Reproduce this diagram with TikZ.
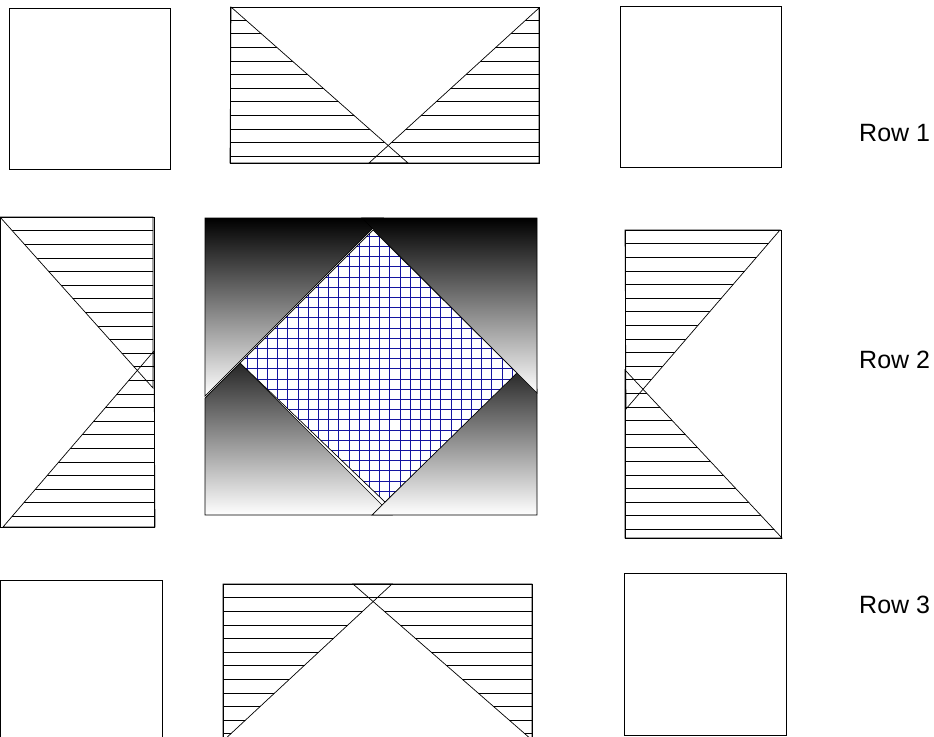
\documentclass[tikz,border=0pt]{standalone}
\usepackage{fontspec}
\setmainfont{Liberation Sans}
\usepackage{tikz}
\usetikzlibrary{positioning}
\definecolor{gridblue}{HTML}{1414A0}

\tikzset{
  piece/.style={draw=black,line width=0.7pt},
  hatchline/.style={draw=black,line width=0.5pt},
  gridline/.style={draw=gridblue,line width=0.7pt},
  rowlabel/.style={anchor=west,inner sep=0pt,font=\fontsize{25}{29}\selectfont}
}

\begin{document}
\begin{tikzpicture}[x=1pt,y=-1pt]
\useasboundingbox (0,0) rectangle (934,736);

% corner squares
\draw[piece] (9,8) rectangle (170,169);
\draw[piece] (620,6) rectangle (781,167);
\draw[piece] (0,580) rectangle (162,740);
\draw[piece] (624,573) rectangle (786,735);

% top middle
\draw[piece] (230,7) rectangle (539,163);
\begin{scope}
  \clip (231,7) -- (230,163) -- (408,163) -- cycle;
  \foreach \y in {20,33.6,...,163} \draw[hatchline] (225,\y) -- (545,\y);
\end{scope}
\begin{scope}
  \clip (539,8) -- (539,163) -- (369,163) -- cycle;
  \foreach \y in {20,33.6,...,163} \draw[hatchline] (225,\y) -- (545,\y);
\end{scope}
\draw[piece] (231,7) -- (230,163) -- (408,163) -- cycle;
\draw[piece] (539,8) -- (539,163) -- (369,163) -- cycle;

% middle left
\draw[piece] (0,217) rectangle (154,527);
\begin{scope}
  \clip (0,217) -- (153,217) -- (153,388) -- cycle;
  \foreach \y in {230.6,244.2,...,527} \draw[hatchline] (-5,\y) -- (160,\y);
\end{scope}
\begin{scope}
  \clip (154,351) -- (3,527) -- (155,527) -- cycle;
  \foreach \y in {230.6,244.2,...,527} \draw[hatchline] (-5,\y) -- (160,\y);
\end{scope}
\draw[piece] (0,217) -- (153,217) -- (153,388) -- cycle;
\draw[piece] (154,351) -- (3,527) -- (155,527) -- cycle;

% middle right
\draw[piece] (625,230) rectangle (781,538);
\begin{scope}
  \clip (625,230) -- (780,230) -- (626,409) -- cycle;
  \foreach \y in {243.6,257.2,...,538} \draw[hatchline] (620,\y) -- (790,\y);
\end{scope}
\begin{scope}
  \clip (625,370) -- (782,538) -- (625,538) -- cycle;
  \foreach \y in {243.6,257.2,...,538} \draw[hatchline] (620,\y) -- (790,\y);
\end{scope}
\draw[piece] (625,230) -- (780,230) -- (626,409) -- cycle;
\draw[piece] (625,370) -- (782,538) -- (625,538) -- cycle;

% bottom middle
\draw[piece] (223,584) rectangle (532,745);
\begin{scope}
  \clip (223,584) -- (392,584) -- (223,741) -- cycle;
  \foreach \y in {597.6,611.2,...,740} \draw[hatchline] (218,\y) -- (540,\y);
\end{scope}
\begin{scope}
  \clip (353,584) -- (532,584) -- (532,740) -- cycle;
  \foreach \y in {597.6,611.2,...,740} \draw[hatchline] (218,\y) -- (540,\y);
\end{scope}
\draw[piece] (223,584) -- (392,584) -- (223,741) -- cycle;
\draw[piece] (353,584) -- (532,584) -- (532,740) -- cycle;

% centre block
\draw[piece,top color=black,bottom color=white] (205,218) -- (383,218) -- (205,396) -- cycle;
\draw[piece,top color=black!85,bottom color=white] (205,398) -- (240,363) -- (392,515) -- (205,515) -- cycle;
\draw[piece,top color=black!85,bottom color=white] (372,515) -- (518,370) -- (537,389) -- (537,515) -- cycle;
\draw[piece,top color=black,bottom color=white] (362,218) -- (537,218) -- (537,393) -- cycle;
\fill[white] (373,230) -- (517,373) -- (385,502) -- (240,363) -- cycle;
\begin{scope}
  \clip (373,230) -- (517,373) -- (385,502) -- (240,363) -- cycle;
  \foreach \x in {236.8,247,...,525} \draw[gridline] (\x,225) -- (\x,510);
  \foreach \y in {226,236.2,...,510} \draw[gridline] (235,\y) -- (525,\y);
\end{scope}
\draw[piece] (373,230) -- (517,373) -- (385,502) -- (240,363) -- cycle;

% labels
\node[rowlabel] (row1) at (859,133) {Row 1};
\node[rowlabel] (row2) at (859,360) {Row 2};
\node[rowlabel] (row3) at (859,605) {Row 3};
\end{tikzpicture}
\end{document}
